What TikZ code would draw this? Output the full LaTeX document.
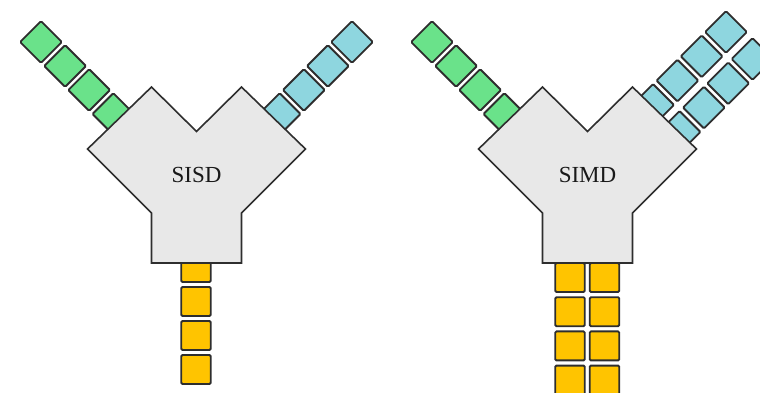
\documentclass[tikz,border=0pt]{standalone}
\usepackage{fontspec}
\setmainfont{Liberation Serif}
\definecolor{gfill}{HTML}{6AE28A}
\definecolor{cfill}{HTML}{8ED6DF}
\definecolor{yfill}{HTML}{FFC400}
\definecolor{body}{HTML}{E8E8E8}
\definecolor{edge}{HTML}{2E2E2E}
\tikzset{
  cell/.style={draw=edge, line width=1.9pt, rounded corners=1.2pt,
    minimum width=29.5, minimum height=29.5, inner sep=0pt, outer sep=0pt},
  gcell/.style={cell, fill=gfill, rotate=45},
  ccell/.style={cell, fill=cfill, rotate=45},
  ycell/.style={cell, fill=yfill, minimum width=29.5, minimum height=29},
  unit/.style={draw=edge, fill=body, line width=1.6pt, line join=miter},
  tag/.style={font=\fontsize{23}{23}\selectfont, text=black!90}
}
\begin{document}
\begin{tikzpicture}[x=1pt, y=-1pt]
\useasboundingbox (0,0) rectangle (760,392);

% ---------- SISD ----------
\foreach \k in {0,...,3} {
  \node[gcell] (sg\k) at ({41+24.1*\k},{42+24*\k}) {};
  \node[ccell] (sc\k) at ({352-24.1*\k},{42+24*\k}) {};
  \node[ycell] (sy\k) at (196,{267.5+34*\k}) {};
}
\begin{scope}[shift={(196.5,0)}]
  \draw[unit] (-45,87) -- (0,131.5) -- (45,87) -- (109,149) -- (45,213)
    -- (45,263) -- (-45,263) -- (-45,213) -- (-109,149) -- cycle;
\end{scope}
\node[tag] (sisd) at (196.5,175) {SISD};

% ---------- SIMD ----------
\foreach \k in {0,...,3} {
  \node[gcell] (mg\k) at ({432+24.1*\k},{42+24*\k}) {};
  \node[ccell] (mcu\k) at ({726-24.3*\k},{32+24.3*\k}) {};
  \node[ccell] (mcl\k) at ({752.5-24.3*\k},{59+24.3*\k}) {};
  \node[ycell] (myl\k) at (570,{277.5+34.2*\k}) {};
  \node[ycell] (myr\k) at (604.5,{277.5+34.2*\k}) {};
}
\begin{scope}[shift={(587.5,0)}]
  \draw[unit] (-45,87) -- (0,131.5) -- (45,87) -- (109,149) -- (45,213)
    -- (45,263) -- (-45,263) -- (-45,213) -- (-109,149) -- cycle;
\end{scope}
\node[tag] (simd) at (587.5,175) {SIMD};
\end{tikzpicture}
\end{document}
